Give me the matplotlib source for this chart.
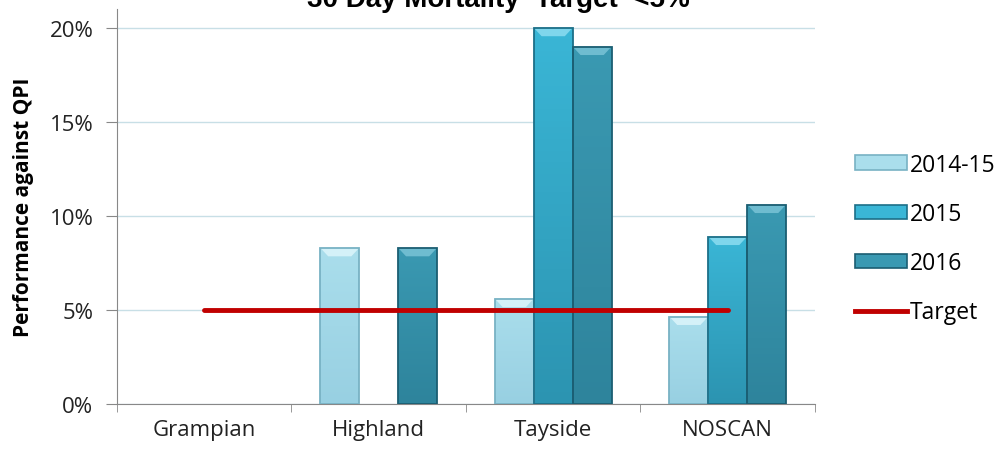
import numpy as np
import matplotlib.pyplot as plt
from matplotlib.patches import Patch, Polygon
from matplotlib.lines import Line2D
from matplotlib.colors import LinearSegmentedColormap

plt.rcParams['font.family'] = ['Open Sans', 'DejaVu Sans']

# values read as fractions; NaN where a board has no figure
regions = ['Grampian', 'Highland', 'Tayside', 'NOSCAN']
y2014_15 = [np.nan, 0.083, 0.056, 0.0465]
y2015 = [np.nan, np.nan, 0.200, 0.089]
y2016 = [np.nan, 0.083, 0.190, 0.106]
target = 0.05
series_names = ['2014-15', '2015', '2016']
yticks = [0, 0.05, 0.10, 0.15, 0.20]
ytick_labels = ['0%', '5%', '10%', '15%', '20%']

# (top colour, bottom colour, edge, bevel highlight)
styles = [
    ('#aadeec', '#98d0e2', '#78b2c4', '#d4f1f8'),
    ('#3ab6d6', '#2c94b1', '#1c6f88', '#7fd6ec'),
    ('#3a99b2', '#2e849c', '#1b5e72', '#6fbcd0'),
]

fig = plt.figure(figsize=(10.08, 4.52), dpi=100)
ax = fig.add_axes([0.116, 0.104, 0.6925, 0.874])

x = np.arange(len(regions))
w = 0.223
bevel_h = 0.0045
bevel_in = 0.045
for i, vals in enumerate([y2014_15, y2015, y2016]):
    top_c, bot_c, edge_c, hi_c = styles[i]
    cmap = LinearSegmentedColormap.from_list('g%d' % i, [bot_c, top_c])
    bars = ax.bar(x + (i - 1) * w, vals, width=w, color='none',
                  edgecolor=edge_c, linewidth=1.3, zorder=3)
    for b in bars:
        h = b.get_height()
        if not np.isfinite(h) or h <= 0:
            continue
        x0 = b.get_x()
        x1 = x0 + b.get_width()
        grad = np.linspace(0, 1, 64).reshape(-1, 1)
        im = ax.imshow(grad, extent=[x0, x1, 0, h], origin='lower', cmap=cmap,
                       aspect='auto', zorder=2.5)
        im.set_clip_path(b)
        # bevel at the bar's top
        ax.add_patch(Polygon([[x0, h], [x1, h], [x1 - bevel_in, h - bevel_h],
                              [x0 + bevel_in, h - bevel_h]], closed=True,
                             facecolor=hi_c, edgecolor='none', zorder=2.8))

ax.plot([x[0], x[-1]], [target, target], color='#c00000', lw=3.5,
        solid_capstyle='round', zorder=4)

ax.set_xlim(-0.5, len(regions) - 0.5)
ax.set_ylim(0, 0.21)
ax.set_yticks(yticks)
ax.set_yticklabels(ytick_labels, fontsize=16, color='#222222')
ax.set_xticks(x)
ax.set_xticklabels(regions, fontsize=16, color='#222222')
ax.set_xticks(np.arange(len(regions) + 1) - 0.5, minor=True)
ax.tick_params(axis='x', which='major', length=0, pad=11)
ax.tick_params(axis='x', which='minor', length=6, color='#888888', direction='out')
ax.tick_params(axis='y', length=8, color='#888888', direction='out', pad=9)

ax.grid(axis='y', color='#c8dfe6', lw=1, zorder=0)
for s in ['top', 'right']:
    ax.spines[s].set_visible(False)
for s in ['left', 'bottom']:
    ax.spines[s].set_color('#888888')

ax.set_ylabel('Performance against QPI', fontsize=15, fontweight='bold', labelpad=11)

fig.text(0.494, 0.9845, '30 Day Mortality  Target  <5%', ha='center', va='baseline',
         fontsize=20, fontweight='bold', family='Liberation Sans')

handles = [Patch(facecolor=styles[i][0], edgecolor=styles[i][2], lw=1.2) for i in range(3)]
handles.append(Line2D([0], [0], color='#c00000', lw=3.5))
fig.legend(handles, series_names + ['Target'], loc='center left',
           bbox_to_anchor=(0.828, 0.47), frameon=False, fontsize=16.5,
           handlelength=2.25, handleheight=0.6, labelspacing=1.1, handletextpad=0.15)

fig.savefig('out.png', dpi=100)
